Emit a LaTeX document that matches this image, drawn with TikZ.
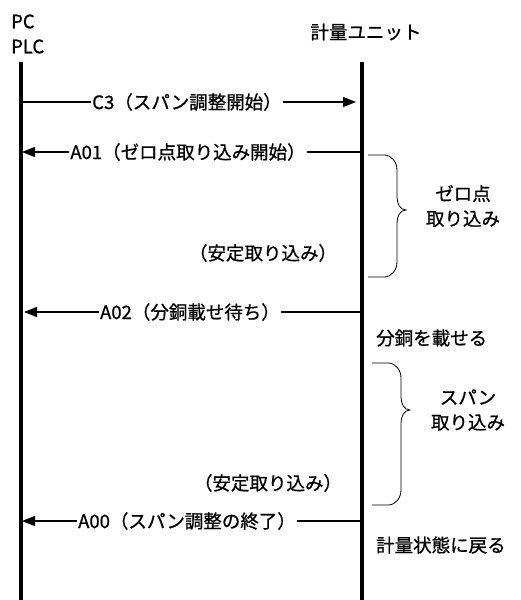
\documentclass[tikz,border=0pt]{standalone}
\usepackage{fontspec}
\setmainfont{Noto Sans CJK JP}[FakeBold=0.8]
\usetikzlibrary{positioning, arrows.meta}

\begin{document}
\begin{tikzpicture}[
    % 1 unit = 1 px of the 521 x 600 sheet, y grows downwards
    x=1pt, y=-1pt,
    head/.style={font=\fontsize{18.5}{25}\selectfont, inner sep=0pt},
    life/.style={line width=4pt},
    msg/.style={line width=1.3pt, -{Triangle[length=13pt, width=10pt]}},
    lbl/.style={fill=white, inner sep=1.5pt, font=\fontsize{18.5}{20}\selectfont},
    note/.style={font=\fontsize{18.5}{25}\selectfont, align=center, inner sep=0pt},
    brace/.style={line width=0.8pt}
  ]
  \useasboundingbox (0,0) rectangle (521,600);

  % ── Heads and lifelines ─────────────────────────────────────────────────
  \node[head, align=left, anchor=west] (pcHead) at (11,34) {PC\\PLC};
  \node[head] (unitHead) at (366,32) {計量ユニット};

  \coordinate (pc)     at (21,62);
  \coordinate (unit)   at (362,62);
  \coordinate (bottom) at (0,600);
  \draw[life] (pc)   -- (pc |- bottom);
  \draw[life] (unit) -- (unit |- bottom);

  % ── Messages (labels sit on the line, white behind them) ────────────────
  \coordinate (yC3)  at (0,102);
  \coordinate (yA01) at (0,152);
  \coordinate (yA02) at (0,312);
  \coordinate (yA00) at (0,521);

  \draw[msg, shorten >=6pt] (pc |- yC3)   -- (unit |- yC3);
  \draw[msg, shorten >=1pt] (unit |- yA01) -- (pc |- yA01);
  \draw[msg, shorten >=3pt] (unit |- yA02) -- (pc |- yA02);
  \draw[msg, shorten >=1pt] (unit |- yA00) -- (pc |- yA00);

  \node[lbl] (c3)  at (187,102) {C3（スパン調整開始）};
  \node[lbl] (a01) at (188,152) {A01（ゼロ点取り込み開始）};
  \node[lbl] (a02) at (190,312) {A02（分銅載せ待ち）};
  \node[lbl] (a00) at (187,521) {A00（スパン調整の終了）};

  % ── Zero point capture ──────────────────────────────────────────────────
  \draw[brace] (368,155) -- (384,155) to[out=0, in=90] (397,170)
               -- (397,197) to[out=-90, in=180] (406,210)
               to[out=180, in=90] (397,223) -- (397,262)
               to[out=-90, in=0] (384,277) -- (368,277);
  \node[note] (zero)    at (463,206) {ゼロ点\\取り込み};
  \node[note] (stable1) at (263,253) {（安定取り込み）};
  \node[note, anchor=west] (load) at (376,338) {分銅を載せる};

  % ── Span capture ────────────────────────────────────────────────────────
  \draw[brace] (372,363) -- (388,363) to[out=0, in=90] (401,378)
               -- (401,397) to[out=-90, in=180] (410,410)
               to[out=180, in=90] (401,423) -- (401,490)
               to[out=-90, in=0] (388,505) -- (372,505);
  \node[note] (span)    at (468,410) {スパン\\取り込み};
  \node[note] (stable2) at (268,483) {（安定取り込み）};
  \node[note, anchor=west] (back) at (376,545) {計量状態に戻る};

\end{tikzpicture}
\end{document}
